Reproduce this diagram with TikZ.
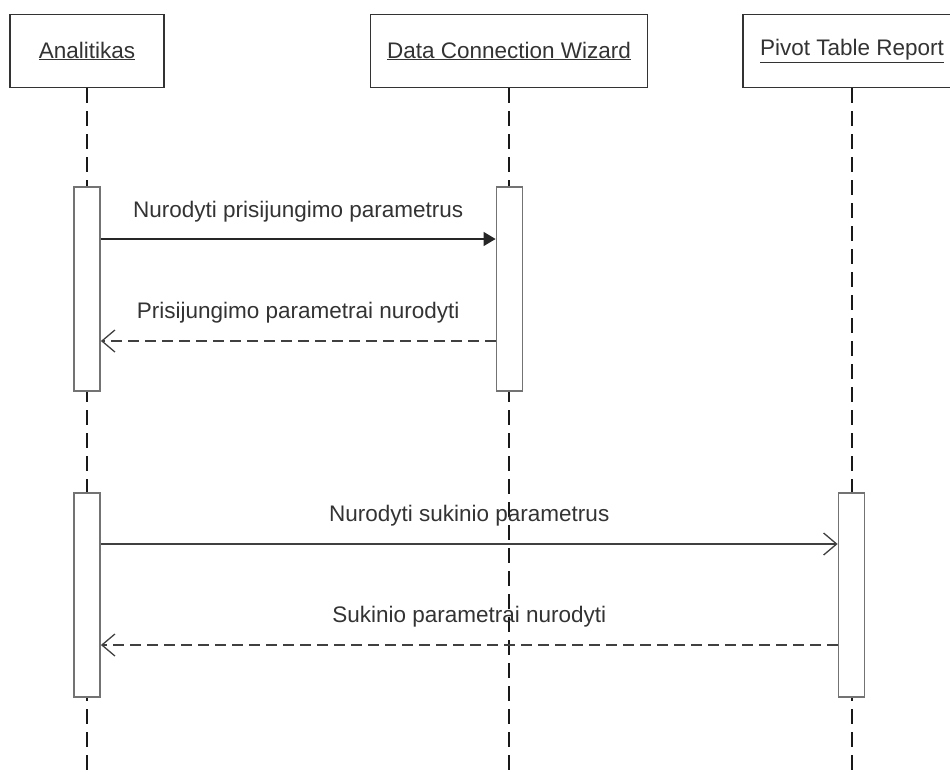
\documentclass[tikz,border=0pt]{standalone}
\usepackage{fontspec}
\setmainfont{Liberation Sans}
\usetikzlibrary{arrows.meta}
\begin{document}
\begin{tikzpicture}[x=1pt,y=-1pt,
  font=\fontsize{22.5}{27}\selectfont,
  actor/.style={draw=black!80,line width=1.8pt,fill=white,minimum height=73pt,
    inner sep=0pt,text=black!80},
  lifeline/.style={draw=black!90,line width=1.8pt,dash pattern=on 15pt off 8pt},
  activation/.style={draw=black!55,line width=1.8pt,fill=white,minimum width=26pt,
    minimum height=204pt,inner sep=0pt},
  call/.style={draw=black!85,line width=1.3pt,-{Triangle[length=12pt,width=14pt]}},
  async/.style={draw=black!75,line width=1.3pt,-{Straight Barb[length=13pt,width=22pt,line width=1.3pt]}},
  reply/.style={draw=black!75,line width=1.3pt,dash pattern=on 11pt off 6pt,
    -{Straight Barb[length=13pt,width=22pt,line width=1.3pt]}},
  msglabel/.style={text=black!80,anchor=base,inner sep=0pt}]
\useasboundingbox (0,0) rectangle (950,771);

% participants
\node[actor,minimum width=154pt] (an) at (87,51) {\underline{Analitikas}};
\node[actor,minimum width=277pt] (dcw) at (509,51) {\underline{Data Connection Wizard}};
\node[actor,minimum width=218pt] (ptr) at (852,51) {\underline{Pivot Table Report}};

% lifelines
\coordinate (anEnd) at (87,771);
\coordinate (dcwEnd) at (509,771);
\coordinate (ptrEnd) at (852,771);
\draw[lifeline] (an.south) -- (anEnd);
\draw[lifeline] (dcw.south) -- (dcwEnd);
\draw[lifeline] (ptr.south) -- (ptrEnd);

% activation bars
\node[activation] (an1) at (87,289) {};
\node[activation] (dcw1) at (509.5,289) {};
\node[activation] (an2) at (87,595) {};
\node[activation] (ptr1) at (851.5,595) {};

% message rows
\coordinate (r1) at (0,239);
\coordinate (r2) at (0,341);
\coordinate (r3) at (0,544);
\coordinate (r4) at (0,645);

\draw[call] (an1.east |- r1) -- (dcw1.west |- r1)
  node[msglabel,midway,yshift=22pt] {Nurodyti prisijungimo parametrus};
\draw[reply] (dcw1.west |- r2) -- (an1.east |- r2)
  node[msglabel,midway,yshift=23pt] {Prisijungimo parametrai nurodyti};
\draw[async] (an2.east |- r3) -- (ptr1.west |- r3)
  node[msglabel,midway,yshift=23pt] {Nurodyti sukinio parametrus};
\draw[reply] (ptr1.west |- r4) -- (an2.east |- r4)
  node[msglabel,midway,yshift=23pt] {Sukinio parametrai nurodyti};
\end{tikzpicture}
\end{document}
